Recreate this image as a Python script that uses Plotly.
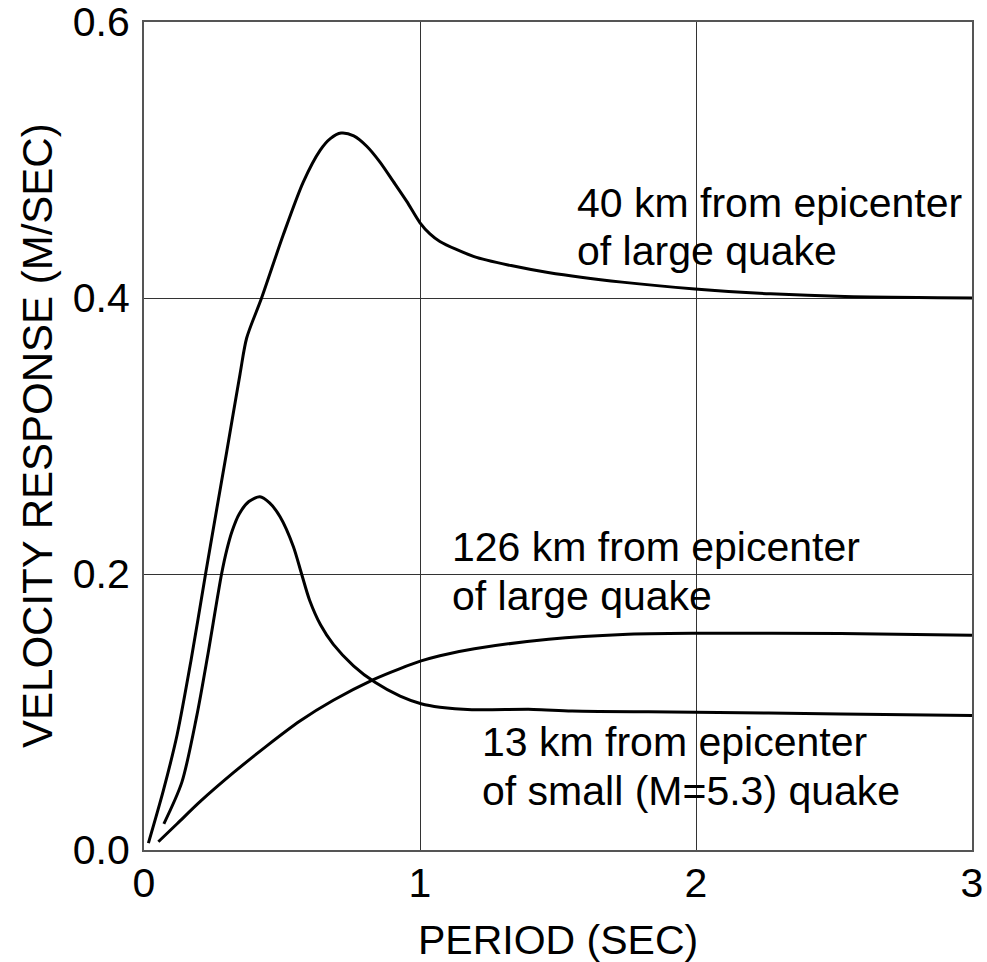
import plotly.graph_objects as go

# ---- data ----
period_40km = [0.016, 0.07, 0.12, 0.17, 0.223, 0.26, 0.30, 0.348, 0.372, 0.426, 0.505,
               0.577, 0.638, 0.675, 0.714, 0.76, 0.807, 0.855, 0.903, 0.952, 1.0, 1.036,
               1.072, 1.196, 1.33, 1.464, 1.732, 1.996, 2.27, 2.539, 3.0]
vel_40km = [0.005, 0.043, 0.0835, 0.137, 0.200, 0.243, 0.289, 0.345, 0.371, 0.400, 0.446,
            0.484, 0.507, 0.5155, 0.5195, 0.5175, 0.510, 0.4985, 0.4845, 0.470, 0.4545,
            0.4465, 0.441, 0.430, 0.4235, 0.4185, 0.4115, 0.4065, 0.403, 0.401, 0.400]

period_13km = [0.072, 0.137, 0.191, 0.230, 0.281, 0.30, 0.32, 0.345, 0.38, 0.420, 0.455,
               0.493, 0.541, 0.571, 0.60, 0.64, 0.686, 0.759, 0.837, 0.928, 1.004, 1.072,
               1.188, 1.411, 1.551, 1.998, 2.524, 3.0]
vel_13km = [0.019, 0.049, 0.097, 0.140, 0.200, 0.2175, 0.2315, 0.2435, 0.2525, 0.256, 0.2515,
            0.2415, 0.220, 0.200, 0.181, 0.163, 0.149, 0.1335, 0.1215, 0.1115, 0.106, 0.1035,
            0.1017, 0.1019, 0.1007, 0.0999, 0.0986, 0.0974]

period_126km = [0.052, 0.12, 0.203, 0.324, 0.445, 0.565, 0.686, 0.831, 0.928, 1.004, 1.072,
                1.197, 1.466, 1.735, 1.998, 2.524, 3.0]
vel_126km = [0.006, 0.019, 0.035, 0.056, 0.0755, 0.0935, 0.1085, 0.1235, 0.1315, 0.137, 0.1408,
             0.1458, 0.1527, 0.1562, 0.157, 0.1568, 0.1556]

x_ticks = [0, 1, 2, 3]
x_tick_labels = ["0", "1", "2", "3"]
y_ticks = [0, 0.2, 0.4, 0.6]
y_tick_labels = ["0.0", "0.2", "0.4", "0.6"]

label_lines = [
    ("40 km from epicenter", 1.563, 0.469),
    ("of large quake", 1.563, 0.4343),
    ("126 km from epicenter", 1.107, 0.2193),
    ("of large quake", 1.107, 0.184),
    ("13 km from epicenter", 1.217, 0.078),
    ("of small (M=5.3) quake", 1.217, 0.043),
]

FONT = "Liberation Sans, Arial, Helvetica, sans-serif"

fig = go.Figure()
for xs, ys, nm in [(period_40km, vel_40km, "40 km"),
                   (period_126km, vel_126km, "126 km"),
                   (period_13km, vel_13km, "13 km")]:
    fig.add_trace(go.Scatter(x=xs, y=ys, mode="lines", name=nm, showlegend=False,
                             hoverinfo="skip",
                             line=dict(color="black", width=3, shape="spline", smoothing=0.8)))

annotations = []
for txt, x, y in label_lines:
    annotations.append(dict(text=txt, x=x, y=y, xref="x", yref="y", xanchor="left",
                            yanchor="middle", showarrow=False,
                            font=dict(family=FONT, size=41, color="black")))
annotations.append(dict(text="PERIOD (SEC)", x=0.5, y=0, xref="paper", yref="paper",
                        xanchor="center", yanchor="middle", yshift=-90, showarrow=False,
                        font=dict(family=FONT, size=41, color="black")))
annotations.append(dict(text="VELOCITY RESPONSE (M/SEC)", x=0, y=0.5, xref="paper",
                        yref="paper", xanchor="center", yanchor="middle", xshift=-107,
                        textangle=-90, showarrow=False,
                        font=dict(family=FONT, size=42, color="black")))

axis_common = dict(showgrid=True, gridcolor="#333333", gridwidth=1, zeroline=False,
                   showline=True, linecolor="#555555", linewidth=2, mirror=True,
                   ticks="", automargin=False, ticklabeloverflow="allow",
                   tickfont=dict(family=FONT, size=41, color="black"))

fig.update_layout(
    width=987, height=962,
    margin=dict(l=144, r=15, t=22, b=112, pad=0, autoexpand=False),
    paper_bgcolor="white", plot_bgcolor="white",
    font=dict(family=FONT, size=40, color="black"),
    xaxis=dict(range=[0, 3], tickvals=x_ticks, ticktext=x_tick_labels,
               ticklabelstandoff=-4, **axis_common),
    yaxis=dict(range=[0, 0.6], tickvals=y_ticks, ticktext=y_tick_labels,
               ticklabelstandoff=4, **axis_common),
    annotations=annotations,
)

fig.write_html(
    "out.html",
    config={"responsive": False, "displayModeBar": False},
    post_script="document.body.style.margin='0';document.body.style.padding='0';"
                "document.documentElement.style.overflow='hidden';",
)
